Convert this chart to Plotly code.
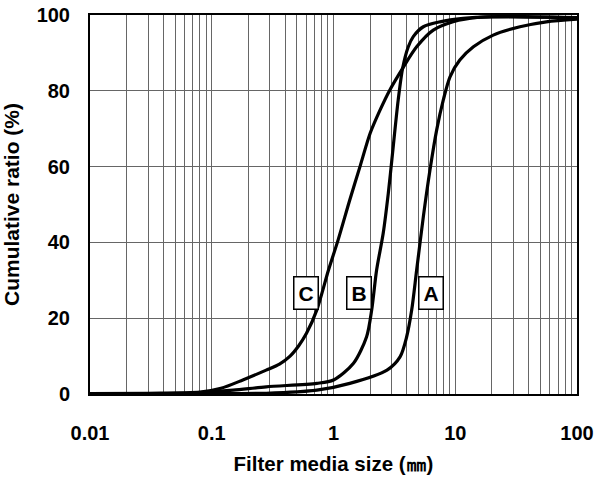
import math
import plotly.graph_objects as go

# Data
A_x = [0.01, 0.05, 0.08, 0.28, 0.73, 1.36, 2.75, 3.52, 3.99, 4.39, 4.82, 5.47, 6.2, 7.04, 7.98, 9.06, 10.9, 14.1, 20.5, 34, 56, 100]
A_y = [0.1, 0.1, 0.1, 0.2, 1.0, 2.8, 6.3, 9.8, 15.1, 22.2, 32.7, 46.8, 59.1, 69.7, 77.6, 83.7, 88.1, 91.6, 94.7, 96.9, 98.2, 98.9]

B_x = [0.01, 0.05, 0.08, 0.15, 0.28, 0.73, 1.0, 1.46, 1.87, 2.06, 2.26, 2.56, 2.82, 3.02, 3.4, 3.7, 4.1, 4.52, 5.47, 7.5, 11.6, 20, 100]
B_y = [0.1, 0.2, 0.4, 1.0, 1.9, 2.8, 3.7, 8.1, 15.1, 22.2, 32.7, 42.4, 53, 62, 77.6, 86, 91.5, 94.3, 96.9, 98.2, 99.1, 99.5, 99.3]

C_x = [0.01, 0.03, 0.08, 0.119, 0.18, 0.28, 0.36, 0.44, 0.52, 0.6, 0.73, 0.91, 1.09, 1.36, 1.65, 2.0, 2.41, 2.91, 3.74, 4.82, 6.6, 9.6, 16, 30, 100]
C_y = [0.1, 0.2, 0.5, 1.5, 3.7, 6.3, 7.9, 10.0, 12.8, 16, 22.2, 32.7, 40.6, 51.2, 60, 68.8, 74.9, 80.3, 86.2, 91.6, 96, 98.2, 99.4, 99.6, 99.3]

labels = ["A", "B", "C"]
label_x = [6.3, 1.62, 0.6]
label_y = [26.6, 26.6, 26.6]

x_major = [0.01, 0.1, 1, 10, 100]
x_major_text = ["0.01", "0.1", "1", "10", "100"]
y_ticks = [0, 20, 40, 60, 80, 100]

# all grid positions (decades + 2..9 multiples)
x_grid = []
x_grid_text = []
for d in [0.01, 0.1, 1, 10]:
    for m in range(1, 10):
        v = round(d * m, 6)
        x_grid.append(v)
        x_grid_text.append(x_major_text[x_major.index(d)] if m == 1 else "")
x_grid.append(100)
x_grid_text.append("100")

fig = go.Figure()
for xs, ys in [(A_x, A_y), (B_x, B_y), (C_x, C_y)]:
    fig.add_trace(go.Scatter(x=xs, y=ys, mode="lines",
                             line=dict(color="black", width=3.2, shape="spline", smoothing=0.8),
                             showlegend=False, hoverinfo="skip"))

for t, lx, ly in zip(labels, label_x, label_y):
    fig.add_annotation(x=math.log10(lx), y=ly, text="<b>%s</b>" % t,
                       showarrow=False, bgcolor="white", bordercolor="black", borderwidth=1.5,
                       borderpad=4, font=dict(size=21, color="black", family="Liberation Sans"))

fig.update_layout(
    width=596, height=479,
    margin=dict(l=90, r=19, t=15, b=85),
    paper_bgcolor="white", plot_bgcolor="white",
    font=dict(family="Liberation Sans", color="black", size=20),
    xaxis=dict(type="log", range=[-2, 2], tickvals=x_grid,
               ticktext=["<b>%s</b>" % s if s else "" for s in x_grid_text],
               showgrid=True, gridcolor="#666", gridwidth=0.8, ticks="",
               showline=True, linecolor="black", linewidth=2, mirror=True,
               ticklabelstandoff=20, zeroline=False, automargin=False,
               tickfont=dict(size=20),
               title=dict(text="<b>Filter media size (㎜)</b>", standoff=14, font=dict(size=20.5))),
    yaxis=dict(range=[0, 100], tickvals=y_ticks, ticktext=["<b>%d</b>" % v for v in y_ticks],
               showgrid=True, gridcolor="#666", gridwidth=0.8, ticks="",
               showline=True, linecolor="black", linewidth=2, mirror=True,
               ticklabelstandoff=14, zeroline=False, automargin=False,
               tickfont=dict(size=20),
               title=dict(text="<b>Cumulative ratio (%)</b>", standoff=12, font=dict(size=21))),
)

fig.write_html("out.html")
